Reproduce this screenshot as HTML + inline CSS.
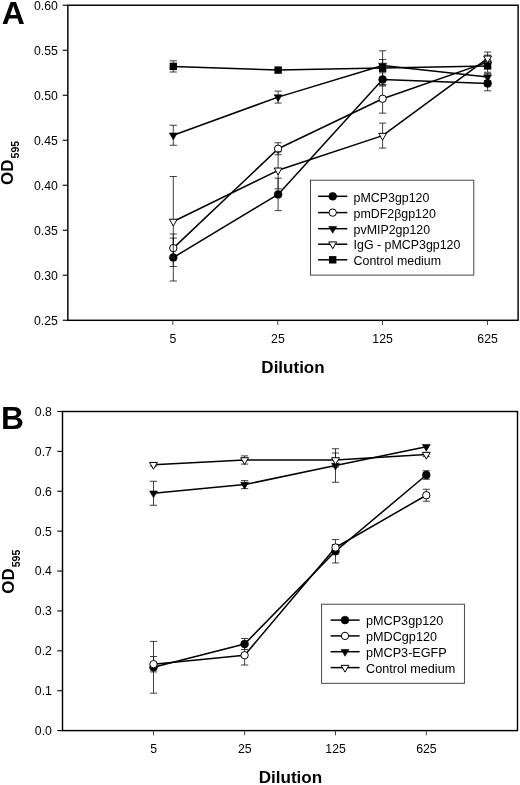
<!DOCTYPE html>
<html><head><meta charset="utf-8"><title>Figure</title>
<style>html,body{margin:0;padding:0;background:#fff;}svg{display:block;will-change:transform;}text{font-family:'Liberation Sans', sans-serif;fill:#000;}</style>
</head><body>
<svg width="520" height="785" viewBox="0 0 520 785">
<rect width="520" height="785" fill="#fff"/>
<rect x="67.85" y="5.25" width="450.25" height="315.05" fill="none" stroke="#000" stroke-width="1.45"/>
<path d="M62.64999999999999 5.25H67.85" stroke="#000" stroke-width="1.1"/>
<text x="57.85" y="9.65" font-size="12.25" text-anchor="end" font-weight="normal" >0.60</text>
<path d="M62.64999999999999 50.25H67.85" stroke="#000" stroke-width="1.1"/>
<text x="57.85" y="54.65" font-size="12.25" text-anchor="end" font-weight="normal" >0.55</text>
<path d="M62.64999999999999 95.25H67.85" stroke="#000" stroke-width="1.1"/>
<text x="57.85" y="99.65" font-size="12.25" text-anchor="end" font-weight="normal" >0.50</text>
<path d="M62.64999999999999 140.25H67.85" stroke="#000" stroke-width="1.1"/>
<text x="57.85" y="144.65" font-size="12.25" text-anchor="end" font-weight="normal" >0.45</text>
<path d="M62.64999999999999 185.25H67.85" stroke="#000" stroke-width="1.1"/>
<text x="57.85" y="189.65" font-size="12.25" text-anchor="end" font-weight="normal" >0.40</text>
<path d="M62.64999999999999 230.25H67.85" stroke="#000" stroke-width="1.1"/>
<text x="57.85" y="234.65" font-size="12.25" text-anchor="end" font-weight="normal" >0.35</text>
<path d="M62.64999999999999 275.25H67.85" stroke="#000" stroke-width="1.1"/>
<text x="57.85" y="279.65" font-size="12.25" text-anchor="end" font-weight="normal" >0.30</text>
<path d="M62.64999999999999 320.25H67.85" stroke="#000" stroke-width="1.1"/>
<text x="57.85" y="324.65" font-size="12.25" text-anchor="end" font-weight="normal" >0.25</text>
<path d="M172.90 320.3V325.00" stroke="#333" stroke-width="0.9"/>
<text x="173.00" y="342.50" font-size="12.25" text-anchor="middle" font-weight="normal" >5</text>
<path d="M277.80 320.3V325.00" stroke="#333" stroke-width="0.9"/>
<text x="277.90" y="342.50" font-size="12.25" text-anchor="middle" font-weight="normal" >25</text>
<path d="M382.50 320.3V325.00" stroke="#333" stroke-width="0.9"/>
<text x="382.60" y="342.50" font-size="12.25" text-anchor="middle" font-weight="normal" >125</text>
<path d="M487.50 320.3V325.00" stroke="#333" stroke-width="0.9"/>
<text x="487.60" y="342.50" font-size="12.25" text-anchor="middle" font-weight="normal" >625</text>
<text x="1.80" y="24.25" font-size="30.5" text-anchor="start" font-weight="bold" textLength="23.1" lengthAdjust="spacingAndGlyphs">A</text>
<g transform="translate(13.0,184.9) rotate(-90)"><text x="0" y="0" font-size="17.0" font-weight="bold">OD<tspan font-size="10.6" dy="6" dx="0.9">595</tspan></text></g>
<text x="293.00" y="373.00" font-size="17.0" text-anchor="middle" font-weight="bold" >Dilution</text>
<path d="M173.30 234.00V281.00M169.70 234.00H176.90M169.70 281.00H176.90" stroke="#111" stroke-width="0.8" fill="none"/>
<path d="M278.10 178.20V210.60M274.50 178.20H281.70M274.50 210.60H281.70" stroke="#111" stroke-width="0.8" fill="none"/>
<path d="M382.60 72.80V86.00M379.00 72.80H386.20M379.00 86.00H386.20" stroke="#111" stroke-width="0.8" fill="none"/>
<path d="M487.60 76.00V90.80M484.00 76.00H491.20M484.00 90.80H491.20" stroke="#111" stroke-width="0.8" fill="none"/>
<path d="M173.30 257.50L278.10 194.40L382.60 79.40L487.60 83.40" stroke="#000" stroke-width="1.5" fill="none" stroke-linejoin="round"/>
<circle cx="173.30" cy="257.50" r="3.90" fill="#000" stroke="#000" stroke-width="0.6"/>
<circle cx="278.10" cy="194.40" r="3.90" fill="#000" stroke="#000" stroke-width="0.6"/>
<circle cx="382.60" cy="79.40" r="3.90" fill="#000" stroke="#000" stroke-width="0.6"/>
<circle cx="487.60" cy="83.40" r="3.90" fill="#000" stroke="#000" stroke-width="0.6"/>
<path d="M173.30 238.10V258.10M169.70 238.10H176.90M169.70 258.10H176.90" stroke="#111" stroke-width="0.8" fill="none"/>
<path d="M278.10 142.75V154.75M274.50 142.75H281.70M274.50 154.75H281.70" stroke="#111" stroke-width="0.8" fill="none"/>
<path d="M382.60 84.35V113.15M379.00 84.35H386.20M379.00 113.15H386.20" stroke="#111" stroke-width="0.8" fill="none"/>
<path d="M487.60 52.07V72.25M484.00 52.07H491.20M484.00 72.25H491.20" stroke="#111" stroke-width="0.8" fill="none"/>
<path d="M173.30 248.10L278.10 148.75L382.60 98.75L487.60 62.16" stroke="#000" stroke-width="1.5" fill="none" stroke-linejoin="round"/>
<circle cx="173.30" cy="248.10" r="3.70" fill="#fff" stroke="#000" stroke-width="1"/>
<circle cx="278.10" cy="148.75" r="3.70" fill="#fff" stroke="#000" stroke-width="1"/>
<circle cx="382.60" cy="98.75" r="3.70" fill="#fff" stroke="#000" stroke-width="1"/>
<circle cx="487.60" cy="62.16" r="3.70" fill="#fff" stroke="#000" stroke-width="1"/>
<path d="M173.30 125.25V145.25M169.70 125.25H176.90M169.70 145.25H176.90" stroke="#111" stroke-width="0.8" fill="none"/>
<path d="M278.10 91.10V103.10M274.50 91.10H281.70M274.50 103.10H281.70" stroke="#111" stroke-width="0.8" fill="none"/>
<path d="M382.60 59.50V71.50M379.00 59.50H386.20M379.00 71.50H386.20" stroke="#111" stroke-width="0.8" fill="none"/>
<path d="M487.60 73.60V80.60M484.00 73.60H491.20M484.00 80.60H491.20" stroke="#111" stroke-width="0.8" fill="none"/>
<path d="M173.30 135.25L278.10 97.10L382.60 65.50L487.60 77.10" stroke="#000" stroke-width="1.5" fill="none" stroke-linejoin="round"/>
<path d="M169.35 132.98H177.25L173.30 139.78Z" fill="#000" stroke="#000" stroke-width="0.6" stroke-linejoin="miter"/>
<path d="M274.15 94.83H282.05L278.10 101.63Z" fill="#000" stroke="#000" stroke-width="0.6" stroke-linejoin="miter"/>
<path d="M378.65 63.23H386.55L382.60 70.03Z" fill="#000" stroke="#000" stroke-width="0.6" stroke-linejoin="miter"/>
<path d="M483.65 74.83H491.55L487.60 81.63Z" fill="#000" stroke="#000" stroke-width="0.6" stroke-linejoin="miter"/>
<path d="M173.30 176.50V266.50M169.70 176.50H176.90M169.70 266.50H176.90" stroke="#111" stroke-width="0.8" fill="none"/>
<path d="M278.10 151.80V188.80M274.50 151.80H281.70M274.50 188.80H281.70" stroke="#111" stroke-width="0.8" fill="none"/>
<path d="M382.60 123.10V148.10M379.00 123.10H386.20M379.00 148.10H386.20" stroke="#111" stroke-width="0.8" fill="none"/>
<path d="M487.60 55.10V61.50M484.00 55.10H491.20M484.00 61.50H491.20" stroke="#111" stroke-width="0.8" fill="none"/>
<path d="M173.30 221.50L278.10 170.30L382.60 135.60L487.60 58.30" stroke="#000" stroke-width="1.5" fill="none" stroke-linejoin="round"/>
<path d="M169.35 219.23H177.25L173.30 226.03Z" fill="#fff" stroke="#000" stroke-width="1" stroke-linejoin="miter"/>
<path d="M274.15 168.03H282.05L278.10 174.83Z" fill="#fff" stroke="#000" stroke-width="1" stroke-linejoin="miter"/>
<path d="M378.65 133.33H386.55L382.60 140.13Z" fill="#fff" stroke="#000" stroke-width="1" stroke-linejoin="miter"/>
<path d="M483.65 56.03H491.55L487.60 62.83Z" fill="#fff" stroke="#000" stroke-width="1" stroke-linejoin="miter"/>
<path d="M173.30 60.80V72.00M169.70 60.80H176.90M169.70 72.00H176.90" stroke="#111" stroke-width="0.8" fill="none"/>
<path d="M382.60 50.80V85.00M379.00 50.80H386.20M379.00 85.00H386.20" stroke="#111" stroke-width="0.8" fill="none"/>
<path d="M173.30 66.40L278.10 70.10L382.60 67.90L487.60 65.90" stroke="#000" stroke-width="1.5" fill="none" stroke-linejoin="round"/>
<rect x="169.60" y="62.70" width="7.40" height="7.40" fill="#000"/>
<rect x="274.40" y="66.40" width="7.40" height="7.40" fill="#000"/>
<rect x="378.90" y="64.20" width="7.40" height="7.40" fill="#000"/>
<rect x="483.90" y="62.20" width="7.40" height="7.40" fill="#000"/>
<rect x="310.5" y="180.2" width="163.3" height="94.90000000000003" fill="#fff" stroke="#333" stroke-width="0.9"/>
<path d="M318.1 196.30H347.3" stroke="#000" stroke-width="1.5"/>
<circle cx="332.70" cy="196.30" r="3.90" fill="#000" stroke="#000" stroke-width="0.6"/>
<text x="353.60" y="201.70" font-size="12.4" text-anchor="start" font-weight="normal" >pMCP3gp120</text>
<path d="M318.1 212.60H347.3" stroke="#000" stroke-width="1.5"/>
<circle cx="332.70" cy="212.60" r="3.70" fill="#fff" stroke="#000" stroke-width="1"/>
<text x="353.60" y="217.80" font-size="12.4" text-anchor="start" font-weight="normal" >pmDF2&#946;gp120</text>
<path d="M318.1 228.70H347.3" stroke="#000" stroke-width="1.5"/>
<path d="M328.75 226.43H336.65L332.70 233.23Z" fill="#000" stroke="#000" stroke-width="0.6" stroke-linejoin="miter"/>
<text x="353.60" y="234.00" font-size="12.4" text-anchor="start" font-weight="normal" >pvMIP2gp120</text>
<path d="M318.1 244.20H347.3" stroke="#000" stroke-width="1.5"/>
<path d="M328.75 241.93H336.65L332.70 248.73Z" fill="#fff" stroke="#000" stroke-width="1" stroke-linejoin="miter"/>
<text x="353.60" y="249.20" font-size="12.4" text-anchor="start" font-weight="normal" >IgG - pMCP3gp120</text>
<path d="M318.1 259.80H347.3" stroke="#000" stroke-width="1.5"/>
<rect x="329.00" y="256.10" width="7.40" height="7.40" fill="#000"/>
<text x="353.60" y="264.60" font-size="12.4" text-anchor="start" font-weight="normal" >Control medium</text>
<rect x="62.5" y="411.5" width="455.0" height="319.1" fill="none" stroke="#000" stroke-width="1.45"/>
<path d="M57.3 411.50H62.5" stroke="#000" stroke-width="1.1"/>
<text x="51.85" y="415.90" font-size="12.25" text-anchor="end" font-weight="normal" >0.8</text>
<path d="M57.3 451.39H62.5" stroke="#000" stroke-width="1.1"/>
<text x="51.85" y="455.79" font-size="12.25" text-anchor="end" font-weight="normal" >0.7</text>
<path d="M57.3 491.27H62.5" stroke="#000" stroke-width="1.1"/>
<text x="51.85" y="495.67" font-size="12.25" text-anchor="end" font-weight="normal" >0.6</text>
<path d="M57.3 531.16H62.5" stroke="#000" stroke-width="1.1"/>
<text x="51.85" y="535.56" font-size="12.25" text-anchor="end" font-weight="normal" >0.5</text>
<path d="M57.3 571.05H62.5" stroke="#000" stroke-width="1.1"/>
<text x="51.85" y="575.45" font-size="12.25" text-anchor="end" font-weight="normal" >0.4</text>
<path d="M57.3 610.94H62.5" stroke="#000" stroke-width="1.1"/>
<text x="51.85" y="615.34" font-size="12.25" text-anchor="end" font-weight="normal" >0.3</text>
<path d="M57.3 650.83H62.5" stroke="#000" stroke-width="1.1"/>
<text x="51.85" y="655.23" font-size="12.25" text-anchor="end" font-weight="normal" >0.2</text>
<path d="M57.3 690.71H62.5" stroke="#000" stroke-width="1.1"/>
<text x="51.85" y="695.11" font-size="12.25" text-anchor="end" font-weight="normal" >0.1</text>
<path d="M57.3 730.60H62.5" stroke="#000" stroke-width="1.1"/>
<text x="51.85" y="735.00" font-size="12.25" text-anchor="end" font-weight="normal" >0.0</text>
<path d="M153.50 730.6V735.30" stroke="#333" stroke-width="0.9"/>
<text x="153.60" y="753.00" font-size="12.25" text-anchor="middle" font-weight="normal" >5</text>
<path d="M244.60 730.6V735.30" stroke="#333" stroke-width="0.9"/>
<text x="244.70" y="753.00" font-size="12.25" text-anchor="middle" font-weight="normal" >25</text>
<path d="M335.50 730.6V735.30" stroke="#333" stroke-width="0.9"/>
<text x="335.60" y="753.00" font-size="12.25" text-anchor="middle" font-weight="normal" >125</text>
<path d="M426.30 730.6V735.30" stroke="#333" stroke-width="0.9"/>
<text x="426.40" y="753.00" font-size="12.25" text-anchor="middle" font-weight="normal" >625</text>
<text x="1.00" y="429.00" font-size="30.5" text-anchor="start" font-weight="bold" textLength="22.9" lengthAdjust="spacingAndGlyphs">B</text>
<g transform="translate(13.7,593.7) rotate(-90)"><text x="0" y="0" font-size="17.0" font-weight="bold">OD<tspan font-size="10.6" dy="6" dx="0.9">595</tspan></text></g>
<text x="290.45" y="783.20" font-size="17.1" text-anchor="middle" font-weight="bold" >Dilution</text>
<path d="M153.50 641.40V693.20M149.90 641.40H157.10M149.90 693.20H157.10" stroke="#111" stroke-width="0.8" fill="none"/>
<path d="M244.60 638.50V649.50M241.00 638.50H248.20M241.00 649.50H248.20" stroke="#111" stroke-width="0.8" fill="none"/>
<path d="M335.50 539.55V562.95M331.90 539.55H339.10M331.90 562.95H339.10" stroke="#111" stroke-width="0.8" fill="none"/>
<path d="M426.30 470.70V479.30M422.70 470.70H429.90M422.70 479.30H429.90" stroke="#111" stroke-width="0.8" fill="none"/>
<path d="M153.50 667.30L244.60 644.00L335.50 551.25L426.30 475.00" stroke="#000" stroke-width="1.5" fill="none" stroke-linejoin="round"/>
<circle cx="153.50" cy="667.30" r="3.90" fill="#000" stroke="#000" stroke-width="0.6"/>
<circle cx="244.60" cy="644.00" r="3.90" fill="#000" stroke="#000" stroke-width="0.6"/>
<circle cx="335.50" cy="551.25" r="3.90" fill="#000" stroke="#000" stroke-width="0.6"/>
<circle cx="426.30" cy="475.00" r="3.90" fill="#000" stroke="#000" stroke-width="0.6"/>
<path d="M153.50 656.50V671.90M149.90 656.50H157.10M149.90 671.90H157.10" stroke="#111" stroke-width="0.8" fill="none"/>
<path d="M244.60 645.50V665.00M241.00 645.50H248.20M241.00 665.00H248.20" stroke="#111" stroke-width="0.8" fill="none"/>
<path d="M335.50 544.50V550.50M331.90 544.50H339.10M331.90 550.50H339.10" stroke="#111" stroke-width="0.8" fill="none"/>
<path d="M426.30 489.25V501.25M422.70 489.25H429.90M422.70 501.25H429.90" stroke="#111" stroke-width="0.8" fill="none"/>
<path d="M153.50 664.20L244.60 655.25L335.50 547.50L426.30 495.25" stroke="#000" stroke-width="1.5" fill="none" stroke-linejoin="round"/>
<circle cx="153.50" cy="664.20" r="3.70" fill="#fff" stroke="#000" stroke-width="1"/>
<circle cx="244.60" cy="655.25" r="3.70" fill="#fff" stroke="#000" stroke-width="1"/>
<circle cx="335.50" cy="547.50" r="3.70" fill="#fff" stroke="#000" stroke-width="1"/>
<circle cx="426.30" cy="495.25" r="3.70" fill="#fff" stroke="#000" stroke-width="1"/>
<path d="M153.50 481.25V505.25M149.90 481.25H157.10M149.90 505.25H157.10" stroke="#111" stroke-width="0.8" fill="none"/>
<path d="M244.60 480.60V488.60M241.00 480.60H248.20M241.00 488.60H248.20" stroke="#111" stroke-width="0.8" fill="none"/>
<path d="M335.50 448.75V482.25M331.90 448.75H339.10M331.90 482.25H339.10" stroke="#111" stroke-width="0.8" fill="none"/>
<path d="M153.50 493.25L244.60 484.60L335.50 465.50L426.30 446.70" stroke="#000" stroke-width="1.5" fill="none" stroke-linejoin="round"/>
<path d="M149.55 490.98H157.45L153.50 497.78Z" fill="#000" stroke="#000" stroke-width="0.6" stroke-linejoin="miter"/>
<path d="M240.65 482.33H248.55L244.60 489.13Z" fill="#000" stroke="#000" stroke-width="0.6" stroke-linejoin="miter"/>
<path d="M331.55 463.23H339.45L335.50 470.03Z" fill="#000" stroke="#000" stroke-width="0.6" stroke-linejoin="miter"/>
<path d="M422.35 444.43H430.25L426.30 451.23Z" fill="#000" stroke="#000" stroke-width="0.6" stroke-linejoin="miter"/>
<path d="M153.50 463.20V466.20M149.90 463.20H157.10M149.90 466.20H157.10" stroke="#111" stroke-width="0.8" fill="none"/>
<path d="M244.60 455.90V464.10M241.00 455.90H248.20M241.00 464.10H248.20" stroke="#111" stroke-width="0.8" fill="none"/>
<path d="M335.50 453.00V467.00M331.90 453.00H339.10M331.90 467.00H339.10" stroke="#111" stroke-width="0.8" fill="none"/>
<path d="M426.30 452.60V456.60M422.70 452.60H429.90M422.70 456.60H429.90" stroke="#111" stroke-width="0.8" fill="none"/>
<path d="M153.50 464.70L244.60 460.00L335.50 460.00L426.30 454.60" stroke="#000" stroke-width="1.5" fill="none" stroke-linejoin="round"/>
<path d="M149.55 462.43H157.45L153.50 469.23Z" fill="#fff" stroke="#000" stroke-width="1" stroke-linejoin="miter"/>
<path d="M240.65 457.73H248.55L244.60 464.53Z" fill="#fff" stroke="#000" stroke-width="1" stroke-linejoin="miter"/>
<path d="M331.55 457.73H339.45L335.50 464.53Z" fill="#fff" stroke="#000" stroke-width="1" stroke-linejoin="miter"/>
<path d="M422.35 452.33H430.25L426.30 459.13Z" fill="#fff" stroke="#000" stroke-width="1" stroke-linejoin="miter"/>
<rect x="321.6" y="604.2" width="142.79999999999995" height="79.09999999999991" fill="#fff" stroke="#333" stroke-width="0.9"/>
<path d="M330.6 620.10H359.6" stroke="#000" stroke-width="1.5"/>
<circle cx="345.00" cy="620.10" r="3.90" fill="#000" stroke="#000" stroke-width="0.6"/>
<text x="366.00" y="625.20" font-size="12.65" text-anchor="start" font-weight="normal" >pMCP3gp120</text>
<path d="M330.6 635.90H359.6" stroke="#000" stroke-width="1.5"/>
<circle cx="345.00" cy="635.90" r="3.70" fill="#fff" stroke="#000" stroke-width="1"/>
<text x="366.00" y="641.10" font-size="12.65" text-anchor="start" font-weight="normal" >pMDCgp120</text>
<path d="M330.6 651.70H359.6" stroke="#000" stroke-width="1.5"/>
<path d="M341.05 649.43H348.95L345.00 656.23Z" fill="#000" stroke="#000" stroke-width="0.6" stroke-linejoin="miter"/>
<text x="366.00" y="656.90" font-size="12.65" text-anchor="start" font-weight="normal" >pMCP3-EGFP</text>
<path d="M330.6 667.60H359.6" stroke="#000" stroke-width="1.5"/>
<path d="M341.05 665.33H348.95L345.00 672.13Z" fill="#fff" stroke="#000" stroke-width="1" stroke-linejoin="miter"/>
<text x="366.00" y="672.80" font-size="12.65" text-anchor="start" font-weight="normal" >Control medium</text>
</svg></body></html>
